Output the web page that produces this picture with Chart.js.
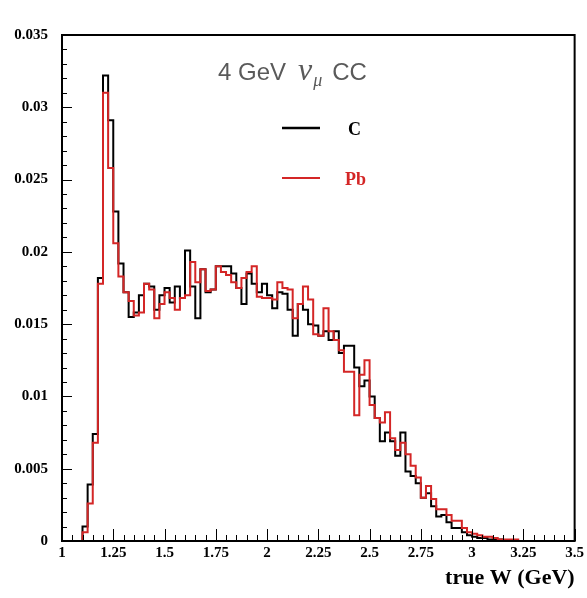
<!DOCTYPE html>
<html>
<head>
<meta charset="utf-8">
<script src="https://cdn.jsdelivr.net/npm/chart.js@4"></script>
<style>
  html, body { margin: 0; padding: 0; background: #fff; }
  #wrap { width: 587px; height: 598px; position: relative; }
</style>
</head>
<body>
<div id="wrap"><canvas id="wChart"></canvas></div>
<script>
// true W distribution, 4 GeV numu CC, bins of 0.025 GeV from 1.0 to 3.5
const binStart = 1.0;
const binWidth = 0.025;

const carbon = [
  0, 0, 0, 0, 0.0010, 0.0039, 0.0074, 0.0182, 0.0322, 0.0291,
  0.0228, 0.0192, 0.0172, 0.0155, 0.0158, 0.0170, 0.0178, 0.0176, 0.0160, 0.0170,
  0.0175, 0.0165, 0.0176, 0.0168, 0.0201, 0.0176, 0.0154, 0.0188, 0.0172, 0.0174,
  0.0190, 0.0190, 0.0190, 0.0185, 0.0175, 0.0164, 0.0185, 0.0178, 0.0172, 0.0178,
  0.0170, 0.0161, 0.0172, 0.0171, 0.0160, 0.0142, 0.0164, 0.0160, 0.0150, 0.0149,
  0.0142, 0.0145, 0.0139, 0.0145, 0.0130, 0.0135, 0.0135, 0.0120, 0.0107, 0.0111,
  0.0100, 0.0085, 0.0069, 0.0075, 0.0069, 0.0059, 0.0075, 0.0048, 0.0045, 0.0040,
  0.0030, 0.0033, 0.0024, 0.0017, 0.0018, 0.0013, 0.0009, 0.0009, 0.0006, 0.0004,
  0.0003, 0.0002, 0.0002, 0.0001, 0.0001, 0.0001, 0, 0, 0, 0,
  0, 0, 0, 0, 0, 0, 0, 0, 0, 0
];

const lead = [
  0, 0, 0, 0, 0.0006, 0.0026, 0.0068, 0.0178, 0.0310, 0.0258,
  0.0206, 0.0183, 0.0172, 0.0166, 0.0156, 0.0158, 0.0178, 0.0174, 0.0154, 0.0164,
  0.0172, 0.0168, 0.0160, 0.0168, 0.0170, 0.0193, 0.0179, 0.0188, 0.0173, 0.0174,
  0.0190, 0.0186, 0.0184, 0.0179, 0.0175, 0.0182, 0.0186, 0.0190, 0.0169, 0.0168,
  0.0168, 0.0167, 0.0179, 0.0175, 0.0174, 0.0154, 0.0164, 0.0176, 0.0167, 0.0143,
  0.0142, 0.0161, 0.0145, 0.0139, 0.0132, 0.0117, 0.0117, 0.0087, 0.0115, 0.0125,
  0.0094, 0.0085, 0.0082, 0.0089, 0.0071, 0.0063, 0.0068, 0.0060, 0.0052, 0.0044,
  0.0030, 0.0038, 0.0029, 0.0022, 0.0022, 0.0018, 0.0014, 0.0014, 0.0009, 0.0006,
  0.0005, 0.0004, 0.0003, 0.0003, 0.0002, 0.0001, 0.0001, 0.0001, 0.0001, 0,
  0, 0, 0, 0, 0, 0, 0, 0, 0, 0
];

const xTicks = [1, 1.25, 1.5, 1.75, 2, 2.25, 2.5, 2.75, 3, 3.25, 3.5];
const yTicks = [0, 0.005, 0.01, 0.015, 0.02, 0.025, 0.03, 0.035];

// bin low edges + closing edge, for a stepped line
function toSteps(vals) {
  const pts = vals.map((v, i) => ({ x: +(binStart + i * binWidth).toFixed(3), y: v }));
  pts.push({ x: +(binStart + vals.length * binWidth).toFixed(3), y: vals[vals.length - 1] });
  return pts;
}

const SERIF = '"Liberation Serif", "DejaVu Serif", serif';
const SANS = '"Liberation Sans", Arial, sans-serif';
const RED = '#d42626';

// frame, inner ticks, label text and legend
const decor = {
  id: 'decor',
  afterDatasetsDraw(chart) {
    const { ctx, chartArea: a, scales: { x, y } } = chart;
    ctx.save();
    ctx.strokeStyle = '#000';
    ctx.lineWidth = 2;
    ctx.strokeRect(a.left, a.top, a.right - a.left, a.bottom - a.top);

    ctx.lineWidth = 1;
    ctx.beginPath();
    for (let i = 0; i <= 50; i++) {
      const px = Math.round(x.getPixelForValue(1 + i * 0.05)) + 0.5;
      const len = i % 5 === 0 ? 12 : 6;
      ctx.moveTo(px, a.bottom);
      ctx.lineTo(px, a.bottom - len);
    }
    for (let i = 0; i <= 35; i++) {
      const py = Math.round(y.getPixelForValue(i * 0.001)) + 0.5;
      const len = i % 5 === 0 ? 10 : 5;
      ctx.moveTo(a.left, py);
      ctx.lineTo(a.left + len, py);
    }
    ctx.stroke();

    // "4 GeV nu_mu CC"
    ctx.fillStyle = '#5a5a5a';
    ctx.textBaseline = 'alphabetic';
    ctx.font = '24px ' + SANS;
    let tx = 218, ty = 80;
    ctx.fillText('4 GeV', tx, ty);
    tx += ctx.measureText('4 GeV').width + 12;
    ctx.font = 'italic 32px ' + SERIF;
    ctx.fillText('\u03bd', tx, ty);
    tx += ctx.measureText('\u03bd').width + 1;
    ctx.font = 'italic 18px ' + SERIF;
    ctx.fillText('\u03bc', tx, ty + 6);
    tx += ctx.measureText('\u03bc').width + 10;
    ctx.font = '24px ' + SANS;
    ctx.fillText('CC', tx, ty);

    // legend
    const items = [
      { label: 'C', color: '#000', y: 128 },
      { label: 'Pb', color: RED, y: 178 }
    ];
    items.forEach(it => {
      ctx.strokeStyle = it.color;
      ctx.lineWidth = it.color === '#000' ? 2.5 : 2;
      ctx.beginPath();
      ctx.moveTo(282, it.y);
      ctx.lineTo(320, it.y);
      ctx.stroke();
      ctx.fillStyle = it.color;
      ctx.font = 'bold 18px ' + SERIF;
      ctx.textBaseline = 'middle';
      ctx.fillText(it.label, it.label === 'C' ? 348 : 345, it.y + 2);
    });
    ctx.restore();
  }
};

new Chart(document.getElementById('wChart'), {
  type: 'line',
  data: {
    datasets: [
      { label: 'Pb', data: toSteps(lead), borderColor: RED, borderWidth: 2, stepped: true, pointRadius: 0, fill: false, order: 0 },
      { label: 'C', data: toSteps(carbon), borderColor: '#000', borderWidth: 2, stepped: true, pointRadius: 0, fill: false, order: 1 }
    ]
  },
  options: {
    responsive: true,
    maintainAspectRatio: false,
    animation: false,
    layout: { padding: { top: 35, right: 12, left: 0, bottom: 0 } },
    plugins: { legend: { display: false }, tooltip: { enabled: false } },
    scales: {
      x: {
        type: 'linear',
        min: 1, max: 3.5,
        afterFit: s => { s.height = 57; },
        afterBuildTicks: s => { s.ticks = xTicks.map(v => ({ value: v })); },
        grid: { display: false, drawTicks: false },
        border: { display: false },
        ticks: {
          autoSkip: false, maxRotation: 0, padding: 3,
          color: '#000', font: { family: SERIF, size: 15, weight: 'bold' },
          callback: v => String(+v.toFixed(2))
        },
        title: {
          display: true, text: 'true W (GeV)', align: 'end',
          color: '#000', font: { family: SERIF, size: 22, weight: 'bold' },
          padding: { top: 0, bottom: 6 }
        }
      },
      y: {
        min: 0, max: 0.035,
        afterFit: s => { s.width = 62; },
        afterBuildTicks: s => { s.ticks = yTicks.map(v => ({ value: v })); },
        grid: { display: false, drawTicks: false },
        border: { display: false },
        ticks: {
          padding: 14,
          color: '#000', font: { family: SERIF, size: 15, weight: 'bold' },
          callback: v => String(+v.toFixed(3))
        }
      }
    }
  },
  plugins: [decor]
});
</script>
</body>
</html>
